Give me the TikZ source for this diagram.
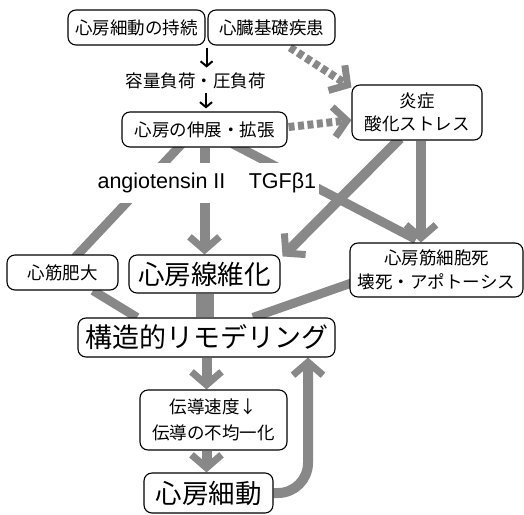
\documentclass[tikz,border=0pt]{standalone}
\usepackage{fontspec}
\setmainfont{Liberation Sans}
\newfontfamily\jp{Noto Sans CJK JP}
\usetikzlibrary{arrows.meta,calc}
\pgfdeclarelayer{bg}
\pgfsetlayers{bg,main}
\definecolor{garr}{RGB}{136,136,136}
\begin{document}
\begin{tikzpicture}[x=1pt,y=-1pt,
 box/.style={draw,rounded corners=8pt,line width=1.1pt,fill=white,inner sep=0pt,align=center,font=\jp\fontsize{17.5pt}{23pt}\selectfont},
 bigbox/.style={box,font=\jp\fontsize{26.5pt}{30pt}\selectfont},
 lbl/.style={inner sep=0pt,font=\jp\fontsize{17.5pt}{23pt}\selectfont},
 gline/.style={draw=garr,line width=9pt},
 gtip/.style={-{Straight Barb[length=13pt,width=30pt,line width=7pt]}},
 garrow/.style={draw=garr,line width=10pt,gtip},
 gdash/.style={draw=garr,line width=8pt,dash pattern=on 6pt off 3.5pt,gtip},
 blk/.style={line width=2pt,-{Straight Barb[length=5pt,width=12pt]}},
 en/.style={fill=white,inner xsep=3pt,inner ysep=0pt,font=\fontsize{21.5pt}{24pt}\selectfont,minimum height=40pt}
]
\useasboundingbox (0,0) rectangle (524,514);
\node[box,minimum width=137pt,minimum height=35pt] (n1) at (136.5,27.5) {心房細動の持続};
\node[box,minimum width=127pt,minimum height=35pt] (n2) at (271.5,27.5) {心臓基礎疾患};
\node[lbl] (lab) at (195.5,80.5) {容量負荷・圧負荷};
\node[box,minimum width=165pt,minimum height=35pt] (n3) at (204.5,129.5) {心房の伸展・拡張};
\node[box,minimum width=130pt,minimum height=55pt] (n4) at (417,112.5) {炎症\\酸化ストレス};
\node[en] (ang) at (161.5,183) {angiotensin II};
\node[en] (tgf) at (282.5,183) {TGFβ1};
\node[box,minimum width=111pt,minimum height=35pt] (n5) at (62.5,272.5) {心筋肥大};
\node[bigbox,minimum width=151pt,minimum height=38pt] (n6) at (204.5,274) {心房線維化};
\node[box,font=\jp\fontsize{17.5pt}{24pt}\selectfont,minimum width=173pt,minimum height=54pt] (n7) at (436.5,270) {心房筋細胞死\\壊死・アポトーシス};
\node[bigbox,font=\jp\fontsize{27pt}{30pt}\selectfont,minimum width=257pt,minimum height=39pt] (n8) at (206.5,337.5) {構造的リモデリング};
\node[box,font=\jp\fontsize{17.5pt}{26pt}\selectfont,minimum width=147pt,minimum height=60pt] (n9) at (213.5,420) {伝導速度↓\\伝導の不均一化};
\node[bigbox,minimum width=129pt,minimum height=40pt] (n10) at (208.5,493) {心房細動};
\begin{pgfonlayer}{bg}
\draw[gline] ($(n3.south)+(-19.5,-7)$) -- ($(n5.north)+(12.5,3)$);
\draw[garrow] (n3.south) -- (n6.north);
\draw[gline] ($(n3.south)+(27.5,-4)$) -- ($(n7.north)+(-20.5,-3)$);
\draw[garrow] ($(n4.south)+(-17,-2)$) -- ($(n6.north east)+(2,2)$);
\draw[garrow] ($(n4.south)+(4,0)$) -- ($(n7.north)+(-15.5,0)$);
\draw[gdash] ($(n2.south)+(18.5,2)$) -- ($(n4.north west)+(0,3)$);
\draw[gdash] ($(n3.east)+(1,-2.5)$) -- ($(n4.west)+(0,7.5)$);
\draw[gline] ($(n5.south)+(30.5,0)$) -- ($(n8.north)+(-69.5,0)$);
\draw[gline,line width=18pt] (n6.south) -- (n6.south |- n8.north);
\draw[gline] ($(n7.west)+(2,13)$) -- ($(n8.north)+(46.5,0)$);
\draw[garrow] (n8.south) -- (n8.south |- n9.north);
\draw[garrow] (n8.south |- n9.south) -- (n8.south |- n10.north);
\draw[garrow,rounded corners=30pt] (n10.east) -| ($(n8.south)+(101.5,0)$);
\end{pgfonlayer}
\draw[blk] ($(n1.south east)+(1,2)$) -- ($(n1.south east)+(1,22)$);
\draw[blk] ($(n3.north)+(1.5,-18)$) -- ($(n3.north)+(1.5,-3)$);
\end{tikzpicture}
\end{document}
